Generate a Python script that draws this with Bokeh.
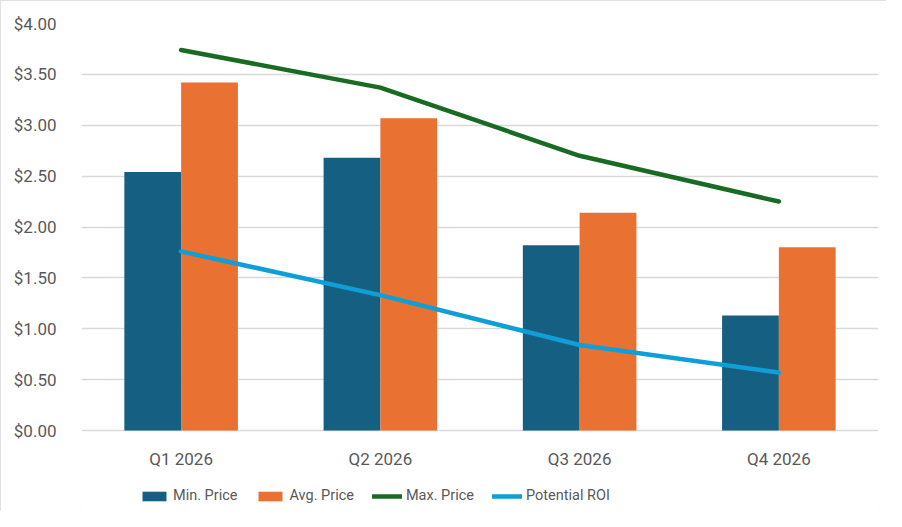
from bokeh.plotting import figure
from bokeh.models import ColumnDataSource, FactorRange, Legend, LegendItem, NumeralTickFormatter, FixedTicker, Range1d
from bokeh.transform import dodge
from bokeh.embed import file_html
from bokeh.resources import INLINE

quarters = ["Q1 2026", "Q2 2026", "Q3 2026", "Q4 2026"]
min_price = [2.54, 2.68, 1.82, 1.13]
avg_price = [3.42, 3.07, 2.14, 1.80]
max_price = [3.74, 3.37, 2.70, 2.25]
potential_roi = [1.76, 1.33, 0.84, 0.57]
y_ticks = [0, 0.5, 1.0, 1.5, 2.0, 2.5, 3.0, 3.5, 4.0]

src = ColumnDataSource(dict(q=quarters, mn=min_price, av=avg_price, mx=max_price, roi=potential_roi))

FONT = "Roboto"
TXT = "#595959"

p = figure(x_range=FactorRange(*quarters, range_padding=0), y_range=Range1d(-0.796, 4),
           width=886, height=511, output_backend="svg", toolbar_location=None,
           min_border_left=81, min_border_right=8, min_border_top=23, min_border_bottom=0)
p.styles = {"outline": "2px solid #d9d9d9", "outline-offset": "-2px"}
p.outline_line_color = None
p.background_fill_color = "white"
p.border_fill_color = "white"

bw = 0.285
r1 = p.vbar(x=dodge("q", -bw / 2, range=p.x_range), top="mn", width=bw, source=src,
            color="#156082", line_color=None)
r2 = p.vbar(x=dodge("q", bw / 2, range=p.x_range), top="av", width=bw, source=src,
            color="#E97132", line_color=None)
r3 = p.line(x="q", y="mx", source=src, line_color="#196B24", line_width=4.5,
            line_cap="round", line_join="round")
r4 = p.line(x="q", y="roi", source=src, line_color="#0F9ED5", line_width=4.5,
            line_cap="round", line_join="round")

p.yaxis.ticker = FixedTicker(ticks=y_ticks)
p.yaxis.formatter = NumeralTickFormatter(format="$0.00")
p.yaxis.axis_line_color = None
p.yaxis.major_tick_line_color = None
p.yaxis.minor_tick_line_color = None
p.yaxis.major_label_standoff = 19
p.xaxis.fixed_location = 0
p.xaxis.axis_line_color = None
p.xaxis.major_tick_line_color = None
p.xaxis.major_label_standoff = 12
for ax in (p.xaxis, p.yaxis):
    ax.major_label_text_font = FONT
    ax.major_label_text_font_size = "17px"
    ax.major_label_text_color = TXT

p.xgrid.grid_line_color = None
p.ygrid.ticker = FixedTicker(ticks=y_ticks)
p.ygrid.grid_line_color = "#d9d9d9"
p.ygrid.grid_line_width = 1.5

legend = Legend(items=[
    LegendItem(label="Min. Price", renderers=[r1]),
    LegendItem(label="Avg. Price", renderers=[r2]),
    LegendItem(label="Max. Price", renderers=[r3]),
    LegendItem(label="Potential ROI", renderers=[r4]),
], orientation="horizontal", location=(58, 7))
legend.border_line_color = None
legend.background_fill_alpha = 0
legend.label_text_font = FONT
legend.label_text_font_size = "14.5px"
legend.label_text_color = TXT
legend.glyph_width = 30
legend.glyph_height = 12
legend.label_standoff = 4
legend.spacing = 18
legend.margin = 0
legend.padding = 4
p.add_layout(legend, "center")

open("out.html", "w").write(file_html(p, INLINE))
